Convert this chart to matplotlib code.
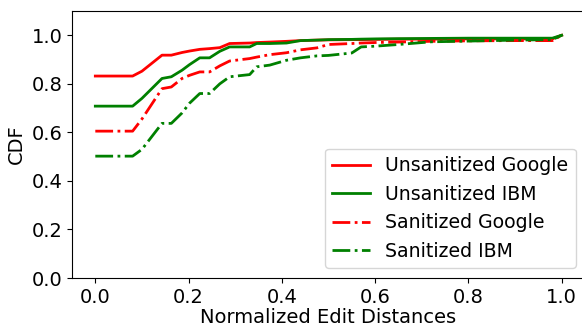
import numpy as np
import matplotlib
matplotlib.use("Agg")
import matplotlib.pyplot as plt

# normalized edit distance thresholds
dist = [0, 0.08, 0.10, 0.143, 0.163, 0.186, 0.202, 0.224, 0.245, 0.267, 0.288,
        0.331, 0.346, 0.374, 0.41, 0.44, 0.475, 0.5, 0.55, 0.57, 0.6, 0.65,
        0.72, 0.8, 0.9, 0.98, 1.0]

unsan_google = [0.832, 0.832, 0.852, 0.918, 0.918, 0.929, 0.935, 0.942, 0.945, 0.949, 0.966,
                0.968, 0.970, 0.972, 0.975, 0.978, 0.980, 0.981, 0.982, 0.982, 0.983, 0.984,
                0.984, 0.985, 0.985, 0.985, 1.0]
unsan_ibm = [0.708, 0.708, 0.740, 0.822, 0.829, 0.856, 0.879, 0.907, 0.907, 0.934, 0.952,
             0.952, 0.966, 0.966, 0.968, 0.978, 0.980, 0.982, 0.983, 0.984, 0.985, 0.986,
             0.987, 0.988, 0.988, 0.988, 1.0]
san_google = [0.605, 0.605, 0.655, 0.780, 0.787, 0.822, 0.835, 0.849, 0.849, 0.874, 0.894,
              0.904, 0.910, 0.920, 0.928, 0.940, 0.948, 0.962, 0.966, 0.968, 0.970, 0.972,
              0.975, 0.977, 0.978, 0.978, 1.0]
san_ibm = [0.502, 0.502, 0.530, 0.637, 0.637, 0.680, 0.720, 0.760, 0.760, 0.800, 0.829,
           0.838, 0.870, 0.877, 0.897, 0.907, 0.915, 0.917, 0.927, 0.952, 0.955, 0.962,
           0.973, 0.976, 0.980, 0.982, 1.0]

plt.rcParams['font.size'] = 14

fig = plt.figure(figsize=(5.82, 3.29), dpi=100)
ax = fig.add_axes([0.1237, 0.155, 0.8814, 0.8116])

ax.plot(dist, unsan_google, 'r-', lw=2, label='Unsanitized Google')
ax.plot(dist, unsan_ibm, 'g-', lw=2, label='Unsanitized IBM')
ax.plot(dist, san_google, 'r-.', lw=2, label='Sanitized Google')
ax.plot(dist, san_ibm, 'g-.', lw=2, label='Sanitized IBM')

ax.set_xlim(-0.05, 1.05)
ax.set_ylim(0, 1.1)
ax.set_xticks([0.0, 0.2, 0.4, 0.6, 0.8, 1.0])
ax.set_yticks([0.0, 0.2, 0.4, 0.6, 0.8, 1.0])
ax.set_xlabel("Normalized Edit Distances", labelpad=1)
ax.set_ylabel("CDF")
ax.legend(loc='lower right', fontsize=13.6, borderaxespad=0,
          bbox_to_anchor=(0.9825, 0.037))

fig.savefig("out.png", dpi=100)
